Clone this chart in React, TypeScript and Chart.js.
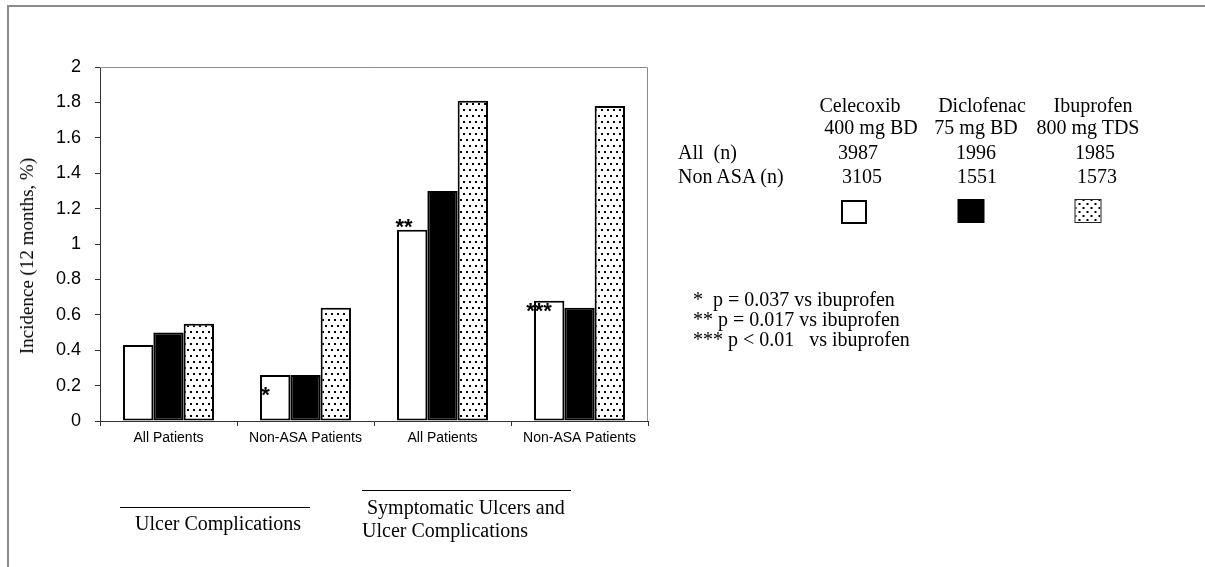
import React, { useEffect, useRef } from 'react';
import { Chart, registerables } from 'chart.js';

Chart.register(...registerables);

// ---------- data ----------
const categories = ['All Patients', 'Non-ASA Patients', 'All Patients', 'Non-ASA Patients'];
const drugNames = ['Celecoxib', 'Diclofenac', 'Ibuprofen'];
const drugDoses = ['400 mg BD', '75 mg BD', '800 mg TDS'];
const celecoxibValues = [0.43, 0.26, 1.08, 0.68];
const diclofenacValues = [0.5, 0.26, 1.3, 0.64];
const ibuprofenValues = [0.55, 0.64, 1.81, 1.78];
const allPatientsN = ['3987', '1996', '1985'];
const nonAsaN = ['3105', '1551', '1573'];
const significanceMarks = ['', '*', '**', '***'];
const footnotes = ['*  p = 0.037 vs ibuprofen', '** p = 0.017 vs ibuprofen', '*** p < 0.01   vs ibuprofen'];
const yAxisTitle = 'Incidence (12 months, %)';
const yMin = 0;
const yMax = 2;
const yStep = 0.2;

// ---------- layout ----------
const W = 1205;
const H = 567;
const PLOT = { left: 100, top: 67, right: 648, bottom: 421 };
const SERIF = '"Liberation Serif", "Times New Roman", Times, serif';
const SANS = '"Liberation Sans", Arial, Helvetica, sans-serif';
// offsets of significance marks relative to bar's left edge and top (centre of asterisk glyph)
const markOffsets: [number, number][] = [[0, 0], [5.5, 15], [7, -8], [5, 5]];
const legendRow1Centers = [860, 982, 1093];
const legendRow2Centers = [871, 976, 1088];
const legendRow3Centers = [858, 976, 1095];
const legendRow4Centers = [862, 977, 1097];
const swatchCenters = [854, 971, 1088];

function makeDotPattern(ctx: CanvasRenderingContext2D): CanvasPattern | string {
  const c = document.createElement('canvas');
  c.width = 6;
  c.height = 12;
  const p = c.getContext('2d');
  if (!p) return '#fff';
  p.fillStyle = '#fff';
  p.fillRect(0, 0, 6, 12);
  p.fillStyle = '#000';
  p.fillRect(1, 1, 2, 2);
  p.fillRect(4, 7, 2, 2);
  return ctx.createPattern(c, 'repeat') || '#fff';
}

const annotatePlugin = {
  id: 'annotate',
  afterDatasetsDraw(chart: any) {
    const { ctx, chartArea } = chart;
    ctx.save();
    ctx.strokeStyle = '#8c8c8c';
    ctx.lineWidth = 1;
    ctx.beginPath();
    ctx.moveTo(chartArea.left, chartArea.top + 0.5);
    ctx.lineTo(chartArea.right - 0.5, chartArea.top + 0.5);
    ctx.lineTo(chartArea.right - 0.5, chartArea.bottom);
    ctx.stroke();

    const meta = chart.getDatasetMeta(0);
    ctx.font = `bold 22px ${SANS}`;
    ctx.fillStyle = '#000';
    ctx.textAlign = 'center';
    ctx.textBaseline = 'alphabetic';
    significanceMarks.forEach((mark, i) => {
      if (!mark) return;
      const bar = meta.data[i];
      if (!bar) return;
      const { x, y, width } = bar.getProps(['x', 'y', 'width'], true);
      const left = x - width / 2;
      const [dx, dy] = markOffsets[i];
      ctx.fillText(mark, left + dx, y + dy + 12.5);
    });
    ctx.restore();
  },
};

const textBase: React.CSSProperties = {
  position: 'absolute',
  fontFamily: SERIF,
  fontSize: 20,
  lineHeight: '20px',
  color: '#000',
  whiteSpace: 'pre',
};

function TextAt({ x, baseline, children, center }: { x: number; baseline: number; children: React.ReactNode; center?: boolean }) {
  return (
    <div
      style={{
        ...textBase,
        left: x,
        top: baseline - 16.75,
        transform: center ? 'translateX(-50%)' : undefined,
      }}
    >
      {children}
    </div>
  );
}

export default function App() {
  const canvasRef = useRef<HTMLCanvasElement | null>(null);

  useEffect(() => {
    const canvas = canvasRef.current;
    if (!canvas) return;
    const ctx = canvas.getContext('2d');
    if (!ctx) return;
    const dots = makeDotPattern(ctx);

    const chart = new Chart(ctx, {
      type: 'bar',
      data: {
        labels: categories,
        datasets: [
          {
            label: drugNames[0],
            data: celecoxibValues,
            backgroundColor: '#ffffff',
            borderColor: '#000000',
            borderWidth: 2,
            borderSkipped: false,
          },
          {
            label: drugNames[1],
            data: diclofenacValues,
            backgroundColor: '#000000',
            borderColor: '#000000',
            borderWidth: 2,
            borderSkipped: false,
          },
          {
            label: drugNames[2],
            data: ibuprofenValues,
            backgroundColor: dots as any,
            borderColor: '#000000',
            borderWidth: 2,
            borderSkipped: false,
          },
        ],
      },
      options: {
        responsive: false,
        animation: false,
        devicePixelRatio: 1,
        layout: {
          padding: {
            left: 0,
            top: PLOT.top,
            right: W - PLOT.right,
            bottom: H - PLOT.bottom - 30,
          },
        },
        datasets: {
          bar: {
            barPercentage: 1,
            categoryPercentage: 0.664,
          },
        },
        plugins: {
          legend: { display: false },
          tooltip: { enabled: false },
          title: { display: false },
        },
        scales: {
          x: {
            grid: {
              display: true,
              drawOnChartArea: false,
              drawTicks: true,
              tickLength: 5,
              color: '#333',
              offset: true,
            },
            border: { display: true, color: '#333', width: 1 },
            ticks: {
              color: '#000',
              font: { family: SANS, size: 14 },
              padding: 4,
              maxRotation: 0,
              autoSkip: false,
            },
            afterFit: (scale: any) => {
              scale.height = 30;
            },
          },
          y: {
            min: yMin,
            max: yMax,
            grid: {
              display: true,
              drawOnChartArea: false,
              drawTicks: true,
              tickLength: 5,
              color: '#333',
            },
            border: { display: true, color: '#333', width: 1 },
            ticks: {
              stepSize: yStep,
              color: '#000',
              font: { family: SANS, size: 18 },
              padding: 14,
              callback: (v: any) => String(Math.round(Number(v) * 10) / 10),
            },
            afterFit: (scale: any) => {
              scale.width = PLOT.left;
            },
          },
        },
      },
      plugins: [annotatePlugin],
    });

    return () => {
      chart.destroy();
    };
  }, []);

  const swatchBase: React.CSSProperties = {
    position: 'absolute',
    top: 199,
    width: 26,
    height: 24,
    boxSizing: 'border-box',
    transform: 'translateX(-50%)',
  };

  return (
    <div
      style={{
        position: 'fixed',
        left: 0,
        top: 0,
        width: W,
        height: H,
        background: '#fff',
        overflow: 'hidden',
      }}
    >
      {/* outer frame */}
      <div
        style={{
          position: 'absolute',
          left: 7,
          top: 5,
          width: W,
          height: H,
          borderLeft: '2px solid #8c8c8c',
          borderTop: '2px solid #8c8c8c',
        }}
      />
      <canvas ref={canvasRef} width={W} height={H} style={{ position: 'absolute', left: 0, top: 0, width: W, height: H }} />

      {/* y axis title */}
      <div
        style={{
          ...textBase,
          fontSize: 19,
          left: 27,
          top: 256,
          transform: 'translate(-50%, -50%) rotate(-90deg)',
          lineHeight: '22px',
        }}
      >
        {yAxisTitle}
      </div>

      {/* legend table */}
      {drugNames.map((n, i) => (
        <TextAt key={'n' + i} x={legendRow1Centers[i]} baseline={112} center>
          {n}
        </TextAt>
      ))}
      {drugDoses.map((n, i) => (
        <TextAt key={'d' + i} x={legendRow2Centers[i]} baseline={134} center>
          {n}
        </TextAt>
      ))}
      <TextAt x={678} baseline={159}>{'All  (n)'}</TextAt>
      {allPatientsN.map((n, i) => (
        <TextAt key={'a' + i} x={legendRow3Centers[i]} baseline={159} center>
          {n}
        </TextAt>
      ))}
      <TextAt x={678} baseline={183}>{'Non ASA (n)'}</TextAt>
      {nonAsaN.map((n, i) => (
        <TextAt key={'b' + i} x={legendRow4Centers[i]} baseline={183} center>
          {n}
        </TextAt>
      ))}
      <div style={{ ...swatchBase, left: swatchCenters[0], top: 200, background: '#fff', border: '2px solid #000' }} />
      <div style={{ ...swatchBase, left: swatchCenters[1], width: 27, background: '#000' }} />
      <div
        style={{
          ...swatchBase,
          left: swatchCenters[2],
          width: 27,
          border: '1px solid #222',
          backgroundColor: '#fff',
          backgroundImage:
            'radial-gradient(circle, #000 0.9px, transparent 1.2px), radial-gradient(circle, #000 0.9px, transparent 1.2px)',
          backgroundSize: '8px 8px, 8px 8px',
          backgroundPosition: '0 0, 4px 4px',
        }}
      />

      {/* footnotes */}
      {footnotes.map((f, i) => (
        <TextAt key={'f' + i} x={693} baseline={306 + i * 20}>
          {f}
        </TextAt>
      ))}

      {/* group labels */}
      <div style={{ position: 'absolute', left: 120, top: 507, width: 190, borderTop: '1px solid #000' }} />
      <TextAt x={135} baseline={530}>{'Ulcer Complications'}</TextAt>
      <div style={{ position: 'absolute', left: 362, top: 490, width: 209, borderTop: '1px solid #000' }} />
      <TextAt x={367} baseline={514}>{'Symptomatic Ulcers and'}</TextAt>
      <TextAt x={362} baseline={537}>{'Ulcer Complications'}</TextAt>
    </div>
  );
}
